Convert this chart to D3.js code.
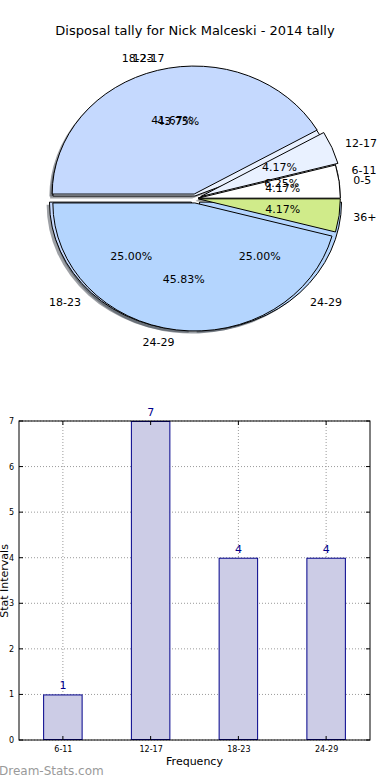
<!DOCTYPE html>
<html>
<head>
<meta charset="utf-8">
<script src="https://cdn.jsdelivr.net/npm/d3@7/dist/d3.min.js"></script>
<style>
  html, body { margin: 0; padding: 0; background: #fff; }
  svg { display: block; font-family: "DejaVu Sans", sans-serif; }
</style>
</head>
<body>
<svg id="chart" width="390" height="780"></svg>
<script>
// ---- data ----
const chartTitle = "Disposal tally for Nick Malceski - 2014 tally";
const pieALabels = ["6-11", "12-17", "18-23", "24-29"];
const pieAValues = [1, 7, 4, 4];
const pieAExplode = [0.02, 0.02, 0.04, 0.04];
const pieBLabels = ["0-5", "12-17", "18-23", "24-29", "36+"];
const pieBValues = [1, 1, 10, 11, 1];
const pieBExplode = [0.02, 0.04, 0.036, 0.035, 0.02];
const sliceColors = {"0-5": "#ffffff", "6-11": "#ffffff", "12-17": "#e9f1ff", "18-23": "#c5d9fe", "24-29": "#b4d5fe", "36+": "#d0eb8a"};

const barCategories = ["6-11", "12-17", "18-23", "24-29"];
const barValues = [1, 7, 4, 4];
const yTickValues = [0, 1, 2, 3, 4, 5, 6, 7];
const xAxisLabel = "Frequency";
const yAxisLabel = "Stat Intervals";
const watermark = "Dream-Stats.com";

(function () {
const svg = d3.select("#chart");

// ---- title ----
svg.append("text").attr("x", 195).attr("y", 35).attr("text-anchor", "middle")
  .attr("font-size", 13).attr("fill", "#000").text(chartTitle);

// ---- pie (two overlaid pies, matplotlib style) ----
const cx = 195.5, cy = 198.5, rx = 142, ry = 128;
const pieGen = d3.pie().sort(null).startAngle(Math.PI / 2).endAngle(Math.PI / 2 - 2 * Math.PI);
const arcGen = d3.arc().innerRadius(0).outerRadius(1);

function buildSlices(labels, values, explode) {
  const total = d3.sum(values);
  return pieGen(values).map((d, i) => {
    const mid = (d.startAngle + d.endAngle) / 2;
    return {arc: d, label: labels[i], pct: values[i] / total * 100, e: explode[i],
            ux: Math.sin(mid), uy: -Math.cos(mid)};
  });
}
const slicesA = buildSlices(pieALabels, pieAValues, pieAExplode);
const slicesB = buildSlices(pieBLabels, pieBValues, pieBExplode);

const pieG = svg.append("g").attr("transform", `translate(${cx},${cy}) scale(${rx},${ry})`);

function shadowColor(c) {
  const col = d3.rgb(c);
  return d3.rgb(col.r * 0.3, col.g * 0.3, col.b * 0.3).toString();
}
[slicesA, slicesB].forEach(sl => {
  pieG.append("g").selectAll("path").data(sl).join("path")
    .attr("d", d => arcGen(d.arc))
    .attr("transform", d => `translate(${d.ux * d.e - 0.02},${d.uy * d.e + 0.02})`)
    .attr("fill", d => shadowColor(sliceColors[d.label]))
    .attr("fill-opacity", 0.5)
    .attr("stroke", "none");
});
[slicesA, slicesB].forEach(sl => {
  pieG.append("g").selectAll("path").data(sl).join("path")
    .attr("d", d => arcGen(d.arc))
    .attr("transform", d => `translate(${d.ux * d.e},${d.uy * d.e})`)
    .attr("fill", d => sliceColors[d.label])
    .attr("stroke", "#000")
    .attr("stroke-width", 1)
    .attr("stroke-linejoin", "round")
    .attr("vector-effect", "non-scaling-stroke");
});
const textG = svg.append("g").attr("font-size", 11).attr("fill", "#000");
[slicesA, slicesB].forEach(sl => {
  sl.forEach(d => {
    const ox = cx + d.ux * d.e * rx, oy = cy + d.uy * d.e * ry;
    const lx = ox + d.ux * 1.1 * rx, ly = oy + d.uy * 1.1 * ry;
    textG.append("text").attr("x", lx).attr("y", ly).attr("dy", "0.35em")
      .attr("text-anchor", d.ux > 0 ? "start" : "end").text(d.label);
    const px = ox + d.ux * 0.6 * rx, py = oy + d.uy * 0.6 * ry;
    textG.append("text").attr("x", px).attr("y", py).attr("dy", "0.35em")
      .attr("text-anchor", "middle").text(d.pct.toFixed(2) + "%");
  });
});

// ---- bar chart ----
const pLeft = 19, pRight = 370, pTop = 421, pBottom = 740;
const x = d3.scaleLinear().domain([-0.5, barCategories.length - 0.5]).range([pLeft, pRight]);
const y = d3.scaleLinear().domain([0, 7]).range([pBottom, pTop]);
const barW = 0.45;
const barG = svg.append("g");

barG.append("g").selectAll("line").data(yTickValues).join("line")
  .attr("x1", pLeft).attr("x2", pRight).attr("y1", d => y(d)).attr("y2", d => y(d))
  .attr("stroke", "#9a9a9a").attr("stroke-width", 1).attr("stroke-dasharray", "1,2");
barG.append("g").selectAll("line").data(barCategories).join("line")
  .attr("x1", (d, i) => x(i)).attr("x2", (d, i) => x(i)).attr("y1", pTop).attr("y2", pBottom)
  .attr("stroke", "#9a9a9a").attr("stroke-width", 1).attr("stroke-dasharray", "1,2");

barG.append("g").selectAll("rect").data(barValues).join("rect")
  .attr("x", (d, i) => x(i - barW / 2) + 0.5)
  .attr("y", d => y(d) + 0.5)
  .attr("width", (d, i) => x(i + barW / 2) - x(i - barW / 2) - 1)
  .attr("height", d => y(0) - y(d) - 1)
  .attr("fill", "#ccccE6").attr("stroke", "#00008b").attr("stroke-width", 1);

barG.append("g").selectAll("text").data(barValues).join("text")
  .attr("x", (d, i) => x(i)).attr("y", d => y(d) - 5)
  .attr("text-anchor", "middle").attr("font-size", 11).attr("fill", "#00008b")
  .text(d => d);

const yAxisL = d3.axisLeft(y).tickValues(yTickValues).tickSize(0).tickPadding(5).tickFormat(d3.format("d"));
const xAxisB = d3.axisBottom(x).tickValues(d3.range(barCategories.length)).tickSize(0).tickPadding(6)
  .tickFormat(i => barCategories[i]);
const gy = barG.append("g").attr("transform", `translate(${pLeft},0)`).call(yAxisL);
const gx = barG.append("g").attr("transform", `translate(0,${pBottom})`).call(xAxisB);
[gy, gx].forEach(g => {
  g.select(".domain").remove();
  g.selectAll("text").attr("font-size", 8).attr("fill", "#000").attr("font-family", "DejaVu Sans, sans-serif");
});
const tickG = barG.append("g").attr("stroke", "#000").attr("stroke-width", 1);
yTickValues.forEach(v => {
  tickG.append("line").attr("x1", pLeft).attr("x2", pLeft + 4).attr("y1", y(v)).attr("y2", y(v));
  tickG.append("line").attr("x1", pRight - 4).attr("x2", pRight).attr("y1", y(v)).attr("y2", y(v));
});
barCategories.forEach((c, i) => {
  tickG.append("line").attr("x1", x(i)).attr("x2", x(i)).attr("y1", pBottom).attr("y2", pBottom - 4);
  tickG.append("line").attr("x1", x(i)).attr("x2", x(i)).attr("y1", pTop).attr("y2", pTop + 4);
});
barG.append("rect").attr("x", pLeft).attr("y", pTop).attr("width", pRight - pLeft).attr("height", pBottom - pTop)
  .attr("fill", "none").attr("stroke", "#000").attr("stroke-width", 1);

svg.append("text").attr("x", (pLeft + pRight) / 2).attr("y", 765).attr("text-anchor", "middle")
  .attr("font-size", 11).attr("fill", "#000").text(xAxisLabel);
svg.append("text").attr("transform", "translate(8,581) rotate(-90)").attr("text-anchor", "middle")
  .attr("font-size", 11).attr("fill", "#000").text(yAxisLabel);

svg.append("text").attr("x", -1).attr("y", 775).attr("font-size", 12).attr("fill", "#9a9a9a")
  .text(watermark);
})();
</script>
</body>
</html>
